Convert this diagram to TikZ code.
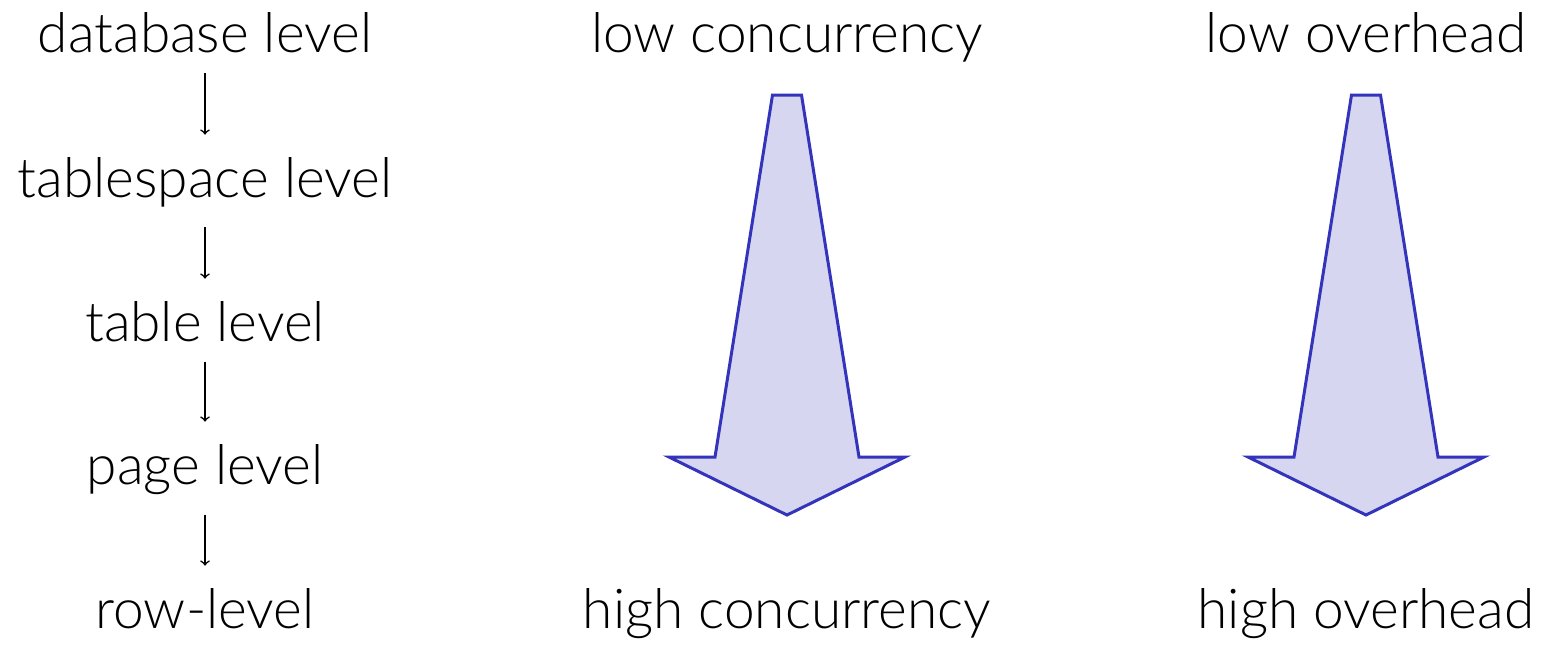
\documentclass[tikz,border=0pt]{standalone}
\usepackage{fontspec}
\setmainfont{Lato Light}
\usetikzlibrary{positioning}
\definecolor{arrowline}{RGB}{51,51,187}
\definecolor{arrowfill}{RGB}{214,214,240}
\tikzset{
  lvl/.style={anchor=base,inner sep=0pt,font=\fontsize{27.5}{33}\selectfont},
  down/.style={-to,thick,shorten <=10pt,shorten >=11pt},
  fat/.style={draw=arrowline,fill=arrowfill,line width=1.5pt,line join=miter}
}
\begin{document}
\begin{tikzpicture}[x=0.5pt,y=-0.5pt]
                \useasboundingbox (0,0) rectangle (1542,645);
                \node[lvl] (db) at (205,52) {database level};
                \node[lvl] (ts) at (205,197) {tablespace level};
                \node[lvl] (tb) at (205,341) {table level};
                \node[lvl] (pg) at (205,484) {page level};
                \node[lvl] (rw) at (205,628) {row-level};
                \draw[down] (db) -- (ts);
                \draw[down] (ts) -- (tb);
                \draw[down] (tb) -- (pg);
                \draw[down] (pg) -- (rw);
                \node[lvl] (lowconc) at (787,52) {low concurrency};
                \node[lvl] (highconc) at (787,628) {high concurrency};
                \node[lvl] (lowover) at (1366,52) {low overhead};
                \node[lvl] (highover) at (1366,628) {high overhead};
                \foreach \c in {787,1366}
                  \draw[fat] (\c-14.5,95) -- (\c+14.5,95) -- (\c+72,457) -- (\c+118,457)
                    -- (\c,515) -- (\c-118,457) -- (\c-72,457) -- cycle;
            \end{tikzpicture}
\end{document}
